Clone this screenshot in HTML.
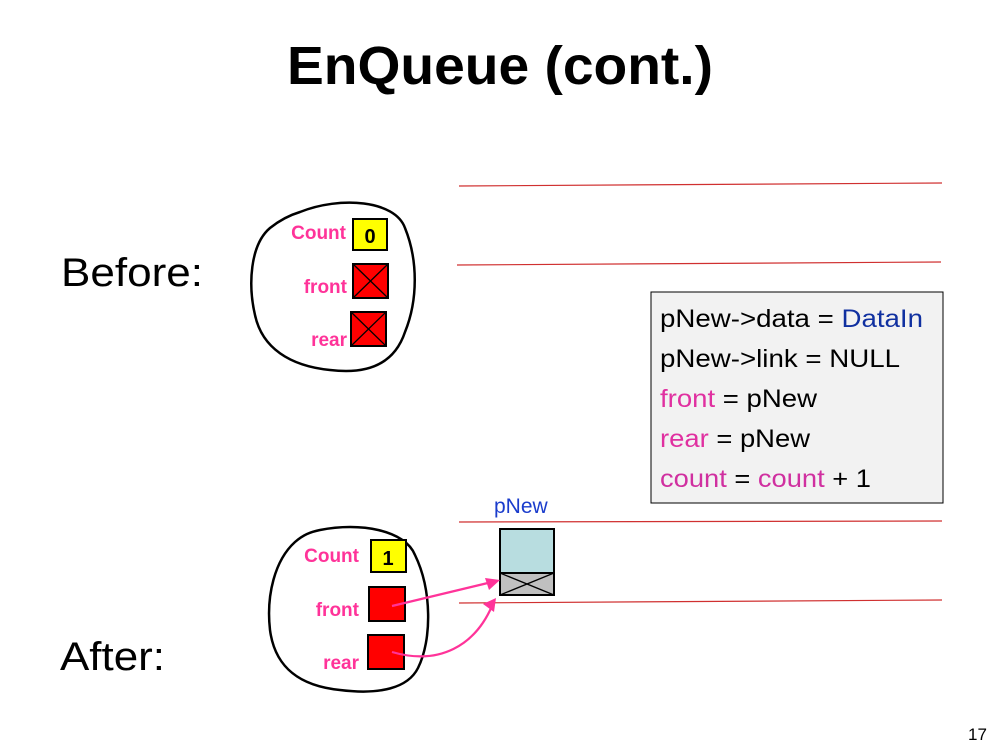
<!DOCTYPE html>
<html><head><meta charset="utf-8"><style>
html,body{margin:0;padding:0;background:#fff;}
svg{display:block;}
text{font-family:"Liberation Sans",Arial,sans-serif;}
</style></head><body>
<svg width="1000" height="750" viewBox="0 0 1000 750" xmlns="http://www.w3.org/2000/svg">
<text x="287" y="84" font-size="54" font-weight="bold" textLength="426" lengthAdjust="spacingAndGlyphs">EnQueue (cont.)</text>
<text x="61" y="286" font-size="40" textLength="142" lengthAdjust="spacingAndGlyphs">Before:</text>
<text x="60" y="670" font-size="40" textLength="105" lengthAdjust="spacingAndGlyphs">After:</text>
<text x="968" y="740" font-size="17">17</text>
<g stroke="#d03030" stroke-width="1.2">
<line x1="459" y1="186" x2="942" y2="183"/>
<line x1="457" y1="265" x2="941" y2="262"/>
<line x1="459" y1="522" x2="942" y2="521"/>
<line x1="459" y1="603" x2="942" y2="600"/>
</g>
<path d="M300,212 C340,196 395,200 405,228 C418,260 418,300 405,332 C395,362 370,375 330,370 C290,366 262,348 255,315 C248,285 250,245 270,228 C280,220 290,215 300,212 Z" fill="none" stroke="#000" stroke-width="2.5"/>
<text x="346" y="239" font-size="19" font-weight="bold" fill="#ff3399" text-anchor="end">Count</text>
<rect x="353" y="219" width="34" height="31" fill="#ffff00" stroke="#000" stroke-width="2"/>
<text x="370" y="243" font-size="20" font-weight="bold" text-anchor="middle">0</text>
<text x="347" y="293" font-size="19" font-weight="bold" fill="#ff3399" text-anchor="end">front</text>
<rect x="353" y="264" width="35" height="34" fill="#ff0000" stroke="#000" stroke-width="2"/>
<path d="M353,264 L388,298 M388,264 L353,298" stroke="#000" stroke-width="1.3"/>
<text x="347" y="346" font-size="19" font-weight="bold" fill="#ff3399" text-anchor="end">rear</text>
<rect x="351" y="312" width="35" height="34" fill="#ff0000" stroke="#000" stroke-width="2"/>
<path d="M351,312 L386,346 M386,312 L351,346" stroke="#000" stroke-width="1.3"/>
<rect x="651" y="292" width="292" height="211" fill="#f2f2f2" stroke="#000" stroke-width="1"/>
<g font-size="25">
<text x="660" y="327" textLength="263" lengthAdjust="spacingAndGlyphs">pNew-&gt;data = <tspan fill="#1030a0">DataIn</tspan></text>
<text x="660" y="367" textLength="240" lengthAdjust="spacingAndGlyphs">pNew-&gt;link = NULL</text>
<text x="660" y="407" textLength="157" lengthAdjust="spacingAndGlyphs"><tspan fill="#e030a0">front</tspan> = pNew</text>
<text x="660" y="447" textLength="150" lengthAdjust="spacingAndGlyphs"><tspan fill="#e030a0">rear</tspan> = pNew</text>
<text x="660" y="487" textLength="211" lengthAdjust="spacingAndGlyphs"><tspan fill="#d030a0">count</tspan> = <tspan fill="#d030a0">count</tspan> + 1</text>
</g>
<path d="M320,530 C360,522 405,530 415,555 C432,590 432,640 418,668 C408,688 380,695 340,690 C300,686 275,668 270,630 C266,595 275,560 295,542 C303,535 310,532 320,530 Z" fill="none" stroke="#000" stroke-width="2.5"/>
<text x="359" y="562" font-size="19" font-weight="bold" fill="#ff3399" text-anchor="end">Count</text>
<rect x="371" y="540" width="35" height="32" fill="#ffff00" stroke="#000" stroke-width="2"/>
<text x="388" y="565" font-size="20" font-weight="bold" text-anchor="middle">1</text>
<text x="359" y="616" font-size="19" font-weight="bold" fill="#ff3399" text-anchor="end">front</text>
<rect x="369" y="587" width="36" height="34" fill="#ff0000" stroke="#000" stroke-width="2"/>
<text x="359" y="669" font-size="19" font-weight="bold" fill="#ff3399" text-anchor="end">rear</text>
<rect x="368" y="635" width="36" height="34" fill="#ff0000" stroke="#000" stroke-width="2"/>
<text x="494" y="513" font-size="21" fill="#1a3ccc">pNew</text>
<rect x="500" y="529" width="54" height="44" fill="#b8dde0" stroke="#000" stroke-width="2"/>
<rect x="500" y="573" width="54" height="22" fill="#c0c0c0" stroke="#000" stroke-width="2"/>
<path d="M500,573 L554,595 M554,573 L500,595" stroke="#000" stroke-width="1.3"/>
<g stroke="#ff3399" stroke-width="2.2" fill="none">
<path d="M392,606 L492,582"/>
<path d="M392,652 C440,666 475,645 492,606"/>
</g>
<polygon points="500,580 485,578 489,590" fill="#ff3399"/>
<polygon points="496,598 483,604 494,612" fill="#ff3399"/>
</svg>
</body></html>
